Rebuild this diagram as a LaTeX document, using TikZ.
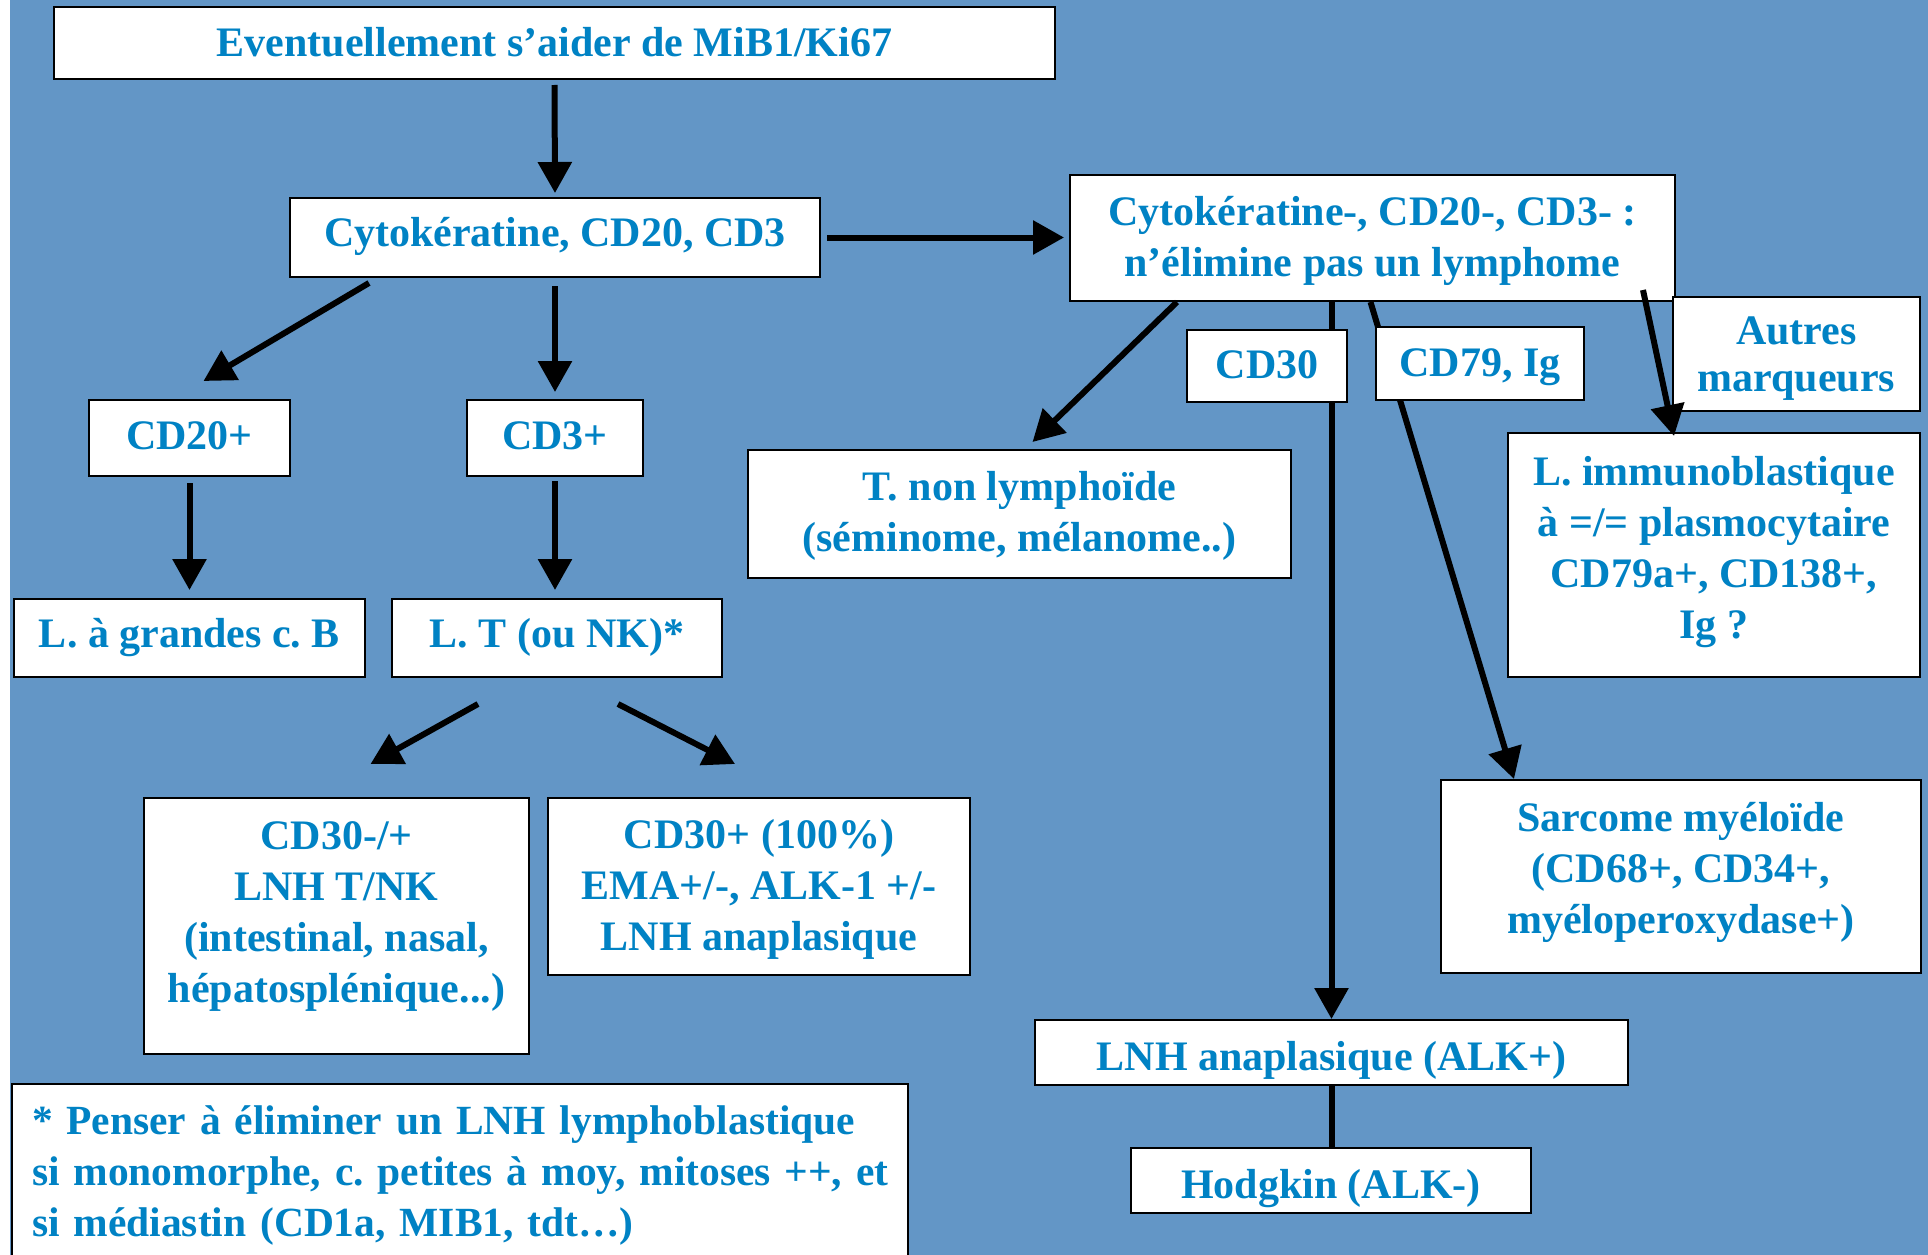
\documentclass[tikz,border=0pt]{standalone}
\usepackage{fontspec}
\setmainfont{Liberation Serif}
\frenchspacing
\usetikzlibrary{arrows.meta}
\definecolor{bgblue}{RGB}{99,150,198}
\definecolor{txtblue}{RGB}{0,130,196}
% #1 extra height (moves text down by #1/2), #2 extra depth (moves text up by #2/2)
\newcommand\blocktxt[3]{\raisebox{0pt}[\dimexpr\height+#1\relax][\dimexpr\depth+#2\relax]{\begin{tabular}{@{}c@{}}#3\end{tabular}}}
\pgfdeclarelayer{bglayer}
\pgfdeclarelayer{linelayer}
\pgfsetlayers{bglayer,linelayer,main}
\tikzset{
  box/.style={draw=black, line width=2pt, fill=white, text=txtblue, align=center,
    inner sep=0pt, font=\fontsize{42}{51}\selectfont\bfseries},
  oneline/.style={box, text height=36pt, text depth=8pt},
  arr/.style={line width=6pt, -{Triangle[length=31pt,width=33pt]}},
  plainline/.style={line width=6pt}
}
\begin{document}
\begin{tikzpicture}[x=1pt,y=-1pt]
\useasboundingbox (0,0) rectangle (1928,1255);
\begin{pgfonlayer}{bglayer}
\fill[white] (0,0) rectangle (1928,1255);
\fill[bgblue] (10,0) rectangle (1928,1255);
\end{pgfonlayer}

\node[oneline, text depth=9pt, minimum width=1001, minimum height=72] (B1) at (554.5,43) {Eventuellement s’aider de MiB1/Ki67};
\node[oneline, text depth=18pt, minimum width=530, minimum height=79] (B2) at (555,237.5) {Cytokératine, CD20, CD3};
\node[box, minimum width=605, minimum height=126] (B3) at (1372.5,238) {\blocktxt{6pt}{0pt}{Cytokératine-, CD20-, CD3- :\\n’élimine pas un lymphome}};
\node[oneline, text depth=12pt, minimum width=160, minimum height=72] (CD30) at (1267,366) {CD30};
\node[oneline, text depth=11pt, minimum width=208, minimum height=73] (CD79) at (1480,363.5) {CD79, Ig};
\node[box, minimum width=247, minimum height=114] (autres) at (1796.5,354) {\fontsize{42}{47}\selectfont\blocktxt{9pt}{0pt}{Autres\\marqueurs}};
\node[box, minimum width=412, minimum height=244] (immuno) at (1714,555) {\blocktxt{0pt}{7pt}{L. immunoblastique\\à =/= plasmocytaire\\CD79a+, CD138+,\\Ig ?}};
\node[box, minimum width=543, minimum height=128] (tnon) at (1019.5,514) {\blocktxt{4pt}{0pt}{T. non lymphoïde\\(séminome, mélanome..)}};
\node[oneline, text depth=13pt, minimum width=201, minimum height=76] (CDvingt) at (189.5,438) {CD20+};
\node[oneline, text depth=13pt, minimum width=176, minimum height=76] (CDtrois) at (555,438) {CD3+};
\node[oneline, text depth=17pt, minimum width=351, minimum height=78] (LgrB) at (189.5,638) {L. à grandes c. B};
\node[oneline, text depth=17pt, minimum width=330, minimum height=78] (LT) at (557,638) {L. T (ou NK)*};
\node[box, minimum width=385, minimum height=256] (CDm) at (336.5,926) {\blocktxt{0pt}{21pt}{CD30-/+\\LNH T/NK\\(intestinal, nasal,\\hépatosplénique...)}};
\node[box, minimum width=422, minimum height=177] (CDp) at (759,886.5) {\blocktxt{6pt}{0pt}{CD30+ (100\%)\\EMA+/-, ALK-1 +/-\\LNH anaplasique}};
\node[box, minimum width=480, minimum height=193] (sarc) at (1681,876.5) {\blocktxt{0pt}{8pt}{Sarcome myéloïde\\(CD68+, CD34+,\\myéloperoxydase+)}};
\node[oneline, text height=43pt, minimum width=593, minimum height=65] (ana) at (1331.5,1052.5) {LNH anaplasique (ALK+)};
\node[oneline, text height=43pt, minimum width=400, minimum height=65] (hodg) at (1331,1180.5) {Hodgkin (ALK-)};
\node[box, font=\fontsize{41.5}{51}\selectfont\bfseries, anchor=north west, align=left, text width=856, inner xsep=20pt, inner ysep=22pt] (foot) at (11,1083) {\mbox{* Penser à éliminer un LNH lymphoblastique}\\\mbox{si monomorphe, c. petites à moy, mitoses ++, et}\\\mbox{si médiastin (CD1a, MIB1, tdt…)}};

% connectors
\draw[arr] ([yshift=-5pt]B1.south) -- ([yshift=4pt]B2.north);
\draw[arr] ([xshift=6pt]B2.east) -- ([xshift=-5pt]B2.east -| B3.west);
\draw[arr] ([xshift=80pt,yshift=-5pt]B2.south west) -- ([xshift=14pt,yshift=18pt]CDvingt.north);
\draw[arr] ([yshift=-8pt]B2.south) -- ([yshift=7pt]CDtrois.north);
\draw[arr] ([yshift=-6pt]CDvingt.south) -- ([yshift=8pt]CDvingt.south |- LgrB.north);
\draw[arr] ([yshift=-4pt]CDtrois.south) -- ([yshift=8pt]CDtrois.south |- LT.north);
\draw[arr] ([xshift=-79pt,yshift=-26pt]LT.south) -- ([xshift=34pt,yshift=33pt]CDm.north);
\draw[arr] ([xshift=61pt,yshift=-26pt]LT.south) -- ([xshift=-24pt,yshift=33pt]CDp.north);
\draw[arr] ([xshift=108pt]B3.south west) -- ([xshift=13pt,yshift=7pt]tnon.north);
\draw[arr] ([xshift=-33pt,yshift=12pt]B3.south east) -- ([xshift=167pt,yshift=-4pt]immuno.north west);
\draw[plainline] (ana.south) -- (ana.south |- hodg.north);
\begin{pgfonlayer}{linelayer}
\draw[arr] (ana.north |- B3.south) -- (ana.north);
\draw[arr] ([xshift=-2pt]B3.south) -- ([xshift=-167pt]sarc.north);
\end{pgfonlayer}
\end{tikzpicture}
\end{document}
